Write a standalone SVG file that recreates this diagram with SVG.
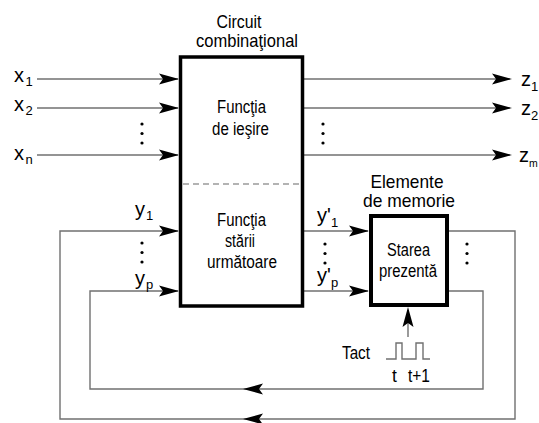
<svg xmlns="http://www.w3.org/2000/svg" xmlns:xlink="http://www.w3.org/1999/xlink" width="539" height="423" viewBox="0 0 539 423">
<style>
text{font-family:"Liberation Sans",Arial,sans-serif;fill:#000}
.t15{font-size:17.5px;text-anchor:middle}
.t17{font-size:18.5px;text-anchor:middle}
.var{font-size:20px}
.sub{font-size:13px}
.box{fill:#fff;stroke:#000;stroke-width:3.5}
.wire{fill:none;stroke:#707070;stroke-width:1.4}
.dash{fill:none;stroke:#9a9a9a;stroke-width:1.4;stroke-dasharray:6 4}
.dot{fill:#000}
</style>
<defs>
<path id="ah" d="M0,0 L-20,-5.5 L-16,0 L-20,5.5 Z" fill="#000"/>
<g id="dots"><circle cx="0" cy="0" r="1.6"/><circle cx="0" cy="9.5" r="1.6"/><circle cx="0" cy="19" r="1.6"/></g>
</defs>
<rect width="539" height="423" fill="#fff"/>

<g id="connectors">
<line class="wire" x1="37" y1="79" x2="178" y2="79"/>
<line class="wire" x1="37" y1="108" x2="178" y2="108"/>
<line class="wire" x1="37" y1="155" x2="178" y2="155"/>
<use xlink:href="#ah" transform="translate(179,79)"/>
<use xlink:href="#ah" transform="translate(179,108)"/>
<use xlink:href="#ah" transform="translate(179,155)"/>
<line class="wire" x1="303" y1="79" x2="510" y2="79"/>
<line class="wire" x1="303" y1="108" x2="510" y2="108"/>
<line class="wire" x1="303" y1="155" x2="510" y2="155"/>
<use xlink:href="#ah" transform="translate(512,79)"/>
<use xlink:href="#ah" transform="translate(512,108)"/>
<use xlink:href="#ah" transform="translate(512,155)"/>
<line class="wire" x1="303" y1="231" x2="368" y2="231"/>
<line class="wire" x1="303" y1="291" x2="368" y2="291"/>
<use xlink:href="#ah" transform="translate(369,231)"/>
<use xlink:href="#ah" transform="translate(369,291)"/>
<polyline class="wire" points="449,231 515,231 515,419 60,419 60,231 178,231"/>
<polyline class="wire" points="449,291 483,291 483,389 90,389 90,291 178,291"/>
<use xlink:href="#ah" transform="translate(179,231)"/>
<use xlink:href="#ah" transform="translate(179,291)"/>
<use xlink:href="#ah" transform="translate(243,389) rotate(180)"/>
<use xlink:href="#ah" transform="translate(243,419) rotate(180)"/>
<line class="wire" x1="408" y1="337" x2="408" y2="310"/>
<use xlink:href="#ah" transform="translate(408,307) rotate(-90)"/>
<polyline class="wire" points="386,359 396,359 396,343 402,343 402,359 416,359 416,343 423,343 423,359 430,359"/>
</g>

<g id="circuit-combinational">
<rect class="box" x="180.5" y="57" width="122" height="249"/>
<line class="dash" x1="183" y1="184" x2="301" y2="184"/>
<text class="t17" x="239" y="28" textLength="45" lengthAdjust="spacingAndGlyphs">Circuit</text>
<text class="t17" x="247" y="47" textLength="102" lengthAdjust="spacingAndGlyphs">combinaţional</text>
<text class="t15" x="241.5" y="113" textLength="49" lengthAdjust="spacingAndGlyphs">Funcţia</text>
<text class="t15" x="240.5" y="135" textLength="57" lengthAdjust="spacingAndGlyphs">de ieşire</text>
<text class="t15" x="241.5" y="226" textLength="49" lengthAdjust="spacingAndGlyphs">Funcţia</text>
<text class="t15" x="240" y="247" textLength="30" lengthAdjust="spacingAndGlyphs">stării</text>
<text class="t15" x="242" y="268" textLength="70" lengthAdjust="spacingAndGlyphs">următoare</text>
</g>

<g id="memory">
<rect x="371" y="216" width="76" height="89" fill="#fff" stroke="#000" stroke-width="4"/>
<text class="t17" x="407" y="188" textLength="73" lengthAdjust="spacingAndGlyphs">Elemente</text>
<text class="t17" x="409" y="207" textLength="92" lengthAdjust="spacingAndGlyphs">de memorie</text>
<text class="t15" x="408.5" y="256" textLength="43" lengthAdjust="spacingAndGlyphs">Starea</text>
<text class="t15" x="408" y="277" textLength="58" lengthAdjust="spacingAndGlyphs">prezentă</text>
</g>

<g id="clock">
<text style="font-size:17.5px" x="342" y="359" textLength="28" lengthAdjust="spacingAndGlyphs">Tact</text>
<text style="font-size:17.5px" x="392" y="382">t</text>
<text style="font-size:17.5px" x="408" y="382" textLength="22" lengthAdjust="spacingAndGlyphs">t+1</text>
</g>

<g id="labels">
<text class="var" x="14" y="82">x<tspan class="sub" x="25.5" y="86">1</tspan></text>
<text class="var" x="14" y="111">x<tspan class="sub" x="25.5" y="115">2</tspan></text>
<text class="var" x="14" y="160">x<tspan class="sub" x="25.5" y="164">n</tspan></text>
<text class="var" x="521" y="86">z<tspan class="sub" x="531" y="91">1</tspan></text>
<text class="var" x="521" y="115">z<tspan class="sub" x="531" y="120">2</tspan></text>
<text class="var" x="519" y="162">z<tspan class="sub" x="529" y="167" style="font-size:10.5px">m</tspan></text>
<text class="var" x="135" y="216">y<tspan class="sub" x="146" y="220">1</tspan></text>
<text class="var" x="135" y="285">y<tspan class="sub" x="146" y="289">p</tspan></text>
<text class="var" x="317" y="222">y'<tspan class="sub" x="331" y="227">1</tspan></text>
<text class="var" x="317" y="282">y'<tspan class="sub" x="331" y="287">p</tspan></text>
</g>

<g id="ellipses" class="dot">
<use xlink:href="#dots" transform="translate(142,124)"/>
<use xlink:href="#dots" transform="translate(323,124)"/>
<use xlink:href="#dots" transform="translate(142,243)"/>
<use xlink:href="#dots" transform="translate(325,244)"/>
<use xlink:href="#dots" transform="translate(467,244)"/>
</g>
</svg>
